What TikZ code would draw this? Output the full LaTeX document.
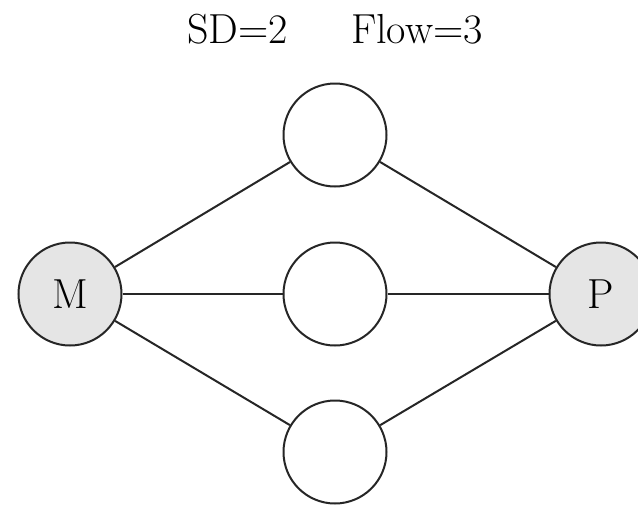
\documentclass[tikz,border=0pt]{standalone}
\begin{document}
\begin{tikzpicture}[x=0.5pt,y=-0.5pt,
  vert/.style={circle,draw=black!85,line width=1pt,minimum size=51.5pt,inner sep=0pt,fill=white,font=\fontsize{21}{25}\selectfont},
  term/.style={vert,fill=black!10},
  edge/.style={draw=black!85,line width=1pt}]
\useasboundingbox (0,0) rectangle (638,504);
\node[anchor=base,font=\fontsize{21}{25}\selectfont] (title) at (335,43) {SD=2\hspace{1.5em}Flow=3};
\node[term] (M) at (70,294) {M};
\node[term] (P) at (601,294) {P};
\node[vert] (T) at (335,135) {};
\node[vert] (C) at (335,294) {};
\node[vert] (B) at (335,452) {};
\draw[edge] (M) -- (T);
\draw[edge] (M) -- (C);
\draw[edge] (M) -- (B);
\draw[edge] (T) -- (P);
\draw[edge] (C) -- (P);
\draw[edge] (B) -- (P);
\end{tikzpicture}
\end{document}
